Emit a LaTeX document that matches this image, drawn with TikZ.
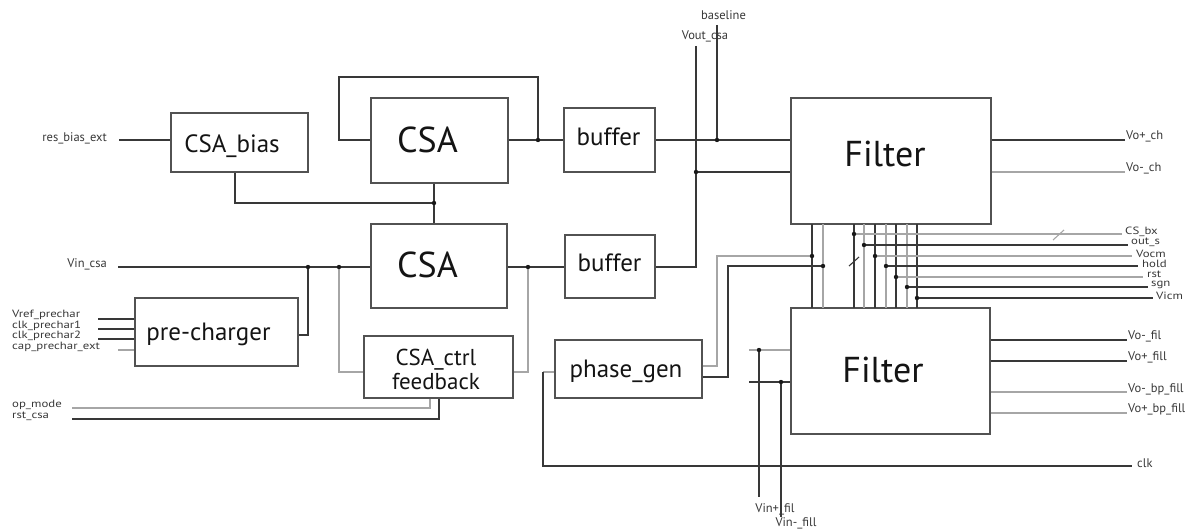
\documentclass[tikz,border=0pt]{standalone}
\usepackage{fontspec}
\setmainfont{PT Sans}
\setsansfont{PT Sans}
\begin{document}
\begin{tikzpicture}[x=1pt,y=-1pt,
  wire/.style={draw=black!78, line width=1.1pt},
  lwire/.style={draw=black!35, line width=1.1pt},
  blk/.style={draw=black!68, line width=1.2pt, inner sep=0pt},
  big/.style={font=\fontsize{36}{36}\selectfont, text=black!92, inner sep=0pt, anchor=base},
  mid/.style={font=\fontsize{25}{25}\selectfont, text=black!92, inner sep=0pt, anchor=base},
  sig/.style={font=\fontsize{12.5}{12.5}\selectfont, text=black!78, inner sep=0pt},
  stk/.style={font=\fontsize{10.5}{10.5}\selectfont\addfontfeature{FakeStretch=1.22},
              text=black!78, inner sep=0pt},
  jdot/.style={fill=black!90},
]
\useasboundingbox (0,0) rectangle (1190,532);

% ---------- blocks ----------
\node[blk, minimum width=137pt, minimum height=59pt] (csabias) at (239.5,142.5) {};
\node[mid] (csabias-t) at (232,152) {CSA\_bias};
\node[blk, minimum width=137pt, minimum height=85pt] (csa1) at (439.5,140.5) {};
\node[big] (csa1-t) at (427.5,152) {CSA};
\node[blk, minimum width=136pt, minimum height=84pt] (csa2) at (439,266) {};
\node[big] (csa2-t) at (427.5,277) {CSA};
\node[blk, minimum width=91pt, minimum height=64pt] (buf1) at (609.5,140) {};
\node[mid] (buf1-t) at (608.5,145) {buffer};
\node[blk, minimum width=90pt, minimum height=63pt] (buf2) at (610,266.5) {};
\node[mid] (buf2-t) at (609.5,271) {buffer};
\node[blk, minimum width=200pt, minimum height=126pt] (f1) at (891,161) {};
\node[big] (f1-t) at (885,166) {Filter};
\node[blk, minimum width=199pt, minimum height=126pt] (f2) at (890.5,371) {};
\node[big] (f2-t) at (883,382) {Filter};
\node[blk, minimum width=163pt, minimum height=68pt] (prech) at (216.5,332) {};
\node[mid] (prech-t) at (208.5,340) {pre-charger};
\node[blk, minimum width=149pt, minimum height=62pt] (ctrl) at (438.5,367) {};
\node[mid, font=\fontsize{23}{23}\selectfont] (ctrl-t1) at (436,365) {CSA\_ctrl};
\node[mid, font=\fontsize{23}{23}\selectfont] (ctrl-t2) at (436,389) {feedback};
\node[blk, minimum width=147pt, minimum height=58pt] (phg) at (628.5,369) {};
\node[mid] (phg-t) at (626,377) {phase\_gen};

% ---------- bias and first CSA ----------
\coordinate (rbe) at (119,140);
\node[sig, anchor=east] (l-rbe) at (107,138) {res\_bias\_ext};
\draw[wire] (rbe) -- (rbe -| csabias.west);

\coordinate (bb) at (235,203);
\coordinate (jb) at (434,203);
\draw[wire] (bb |- csabias.south) -- (bb) -- (jb);
\draw[wire] (jb |- csa1.south) -- (jb |- csa2.north);

\coordinate (fb1) at (339,140);
\coordinate (fbt) at (339,77);
\coordinate (j1) at (538,140);
\draw[wire] (fb1 -| csa1.west) -- (fb1) -- (fbt) -| (j1);
\draw[wire] (j1 -| csa1.east) -- (j1 -| buf1.west);

% ---------- buffer outputs, baseline, Vout_csa ----------
\coordinate (jbase) at (717,140);
\coordinate (basetop) at (717,25);
\draw[wire] (jbase -| buf1.east) -- (jbase -| f1.west);
\draw[wire] (basetop) -- (jbase);
\node[sig] (l-base) at (723.5,15) {baseline};

\coordinate (vtop) at (696,46);
\coordinate (jvout) at (696,172);
\coordinate (vbot) at (696,267);
\draw[wire] (vtop) -- (vbot) -- (vbot -| buf2.east);
\draw[wire] (jvout) -- (jvout -| f1.west);
\node[sig] (l-vout) at (705,36) {Vout\_csa};

% ---------- second CSA input side ----------
\coordinate (vin) at (118,267);
\coordinate (jp) at (308,267);
\coordinate (jc) at (339,267);
\node[sig, anchor=east] (l-vin) at (107,264) {Vin\_csa};
\draw[wire] (vin) -- (vin -| csa2.west);
\coordinate (po) at (308,335);
\draw[wire] (jp) -- (po) -- (po -| prech.east);
\coordinate (cl) at (339,372);
\draw[lwire] (jc) -- (cl) -- (cl -| ctrl.west);

\coordinate (j2) at (528,267);
\draw[wire] (j2 -| csa2.east) -- (j2 -| buf2.west);
\coordinate (cr) at (528,372);
\draw[lwire] (j2) -- (cr) -- (cr -| ctrl.east);

% ---------- pre-charger inputs ----------
\coordinate (pi1) at (98,319);
\coordinate (pi2) at (98,329);
\coordinate (pi3) at (98,339);
\coordinate (pi4) at (118,350);
\draw[wire] (pi1) -- (pi1 -| prech.west);
\draw[wire] (pi2) -- (pi2 -| prech.west);
\draw[wire] (pi3) -- (pi3 -| prech.west);
\draw[lwire] (pi4) -- (pi4 -| prech.west);
\node[stk, anchor=west] (l-pi1) at (12,315) {Vref\_prechar};
\node[stk, anchor=west] (l-pi2) at (12,325.5) {clk\_prechar1};
\node[stk, anchor=west] (l-pi3) at (12,336) {clk\_prechar2};
\node[stk, anchor=west] (l-pi4) at (12,346.5) {cap\_prechar\_ext};

% ---------- CSA_ctrl inputs ----------
\coordinate (opm) at (72,408);
\coordinate (opk) at (430,408);
\draw[lwire] (opm) -- (opk) -- (opk |- ctrl.south);
\coordinate (rsc) at (72,419);
\coordinate (rsk) at (439,419);
\draw[wire] (rsc) -- (rsk) -- (rsk |- ctrl.south);
\node[stk, anchor=west] (l-opm) at (12,405) {op\_mode};
\node[stk, anchor=west] (l-rsc) at (12,416) {rst\_csa};

% ---------- phase_gen ----------
\coordinate (pa) at (717,366);
\coordinate (pah) at (717,256);
\coordinate (ja) at (812,256);
\draw[lwire] (pa -| phg.east) -- (pa) -- (pah) -- (ja);
\coordinate (pb) at (728,377);
\coordinate (pbh) at (728,266);
\coordinate (jbb) at (823,266);
\draw[wire] (pb -| phg.east) -- (pb) -- (pbh) -- (jbb);

\coordinate (ck1) at (543,372);
\coordinate (ck2) at (543,466);
\coordinate (ck3) at (1132,466);
\draw[lwire] (ck1 -| phg.west) -- (ck1);
\draw[wire] (ck1) -- (ck2) -- (ck3);
\node[sig, anchor=west] (l-clk) at (1137,463) {clk};

% ---------- links between the two filters ----------
\foreach \x/\s in {812/wire, 823/lwire, 854/wire, 864/lwire, 875/wire,
                   886/lwire, 896/wire, 907/lwire, 917/wire}
  \draw[\s] (\x,224) -- (\x,308);

% control signals
\foreach \y/\xd/\xe/\s/\t/\xl in {
    234/854/1122/lwire/CS\_bx/1125,
    245/864/1128/wire/out\_s/1131,
    256/875/1132/lwire/Vocm/1136,
    266/886/1138/wire/hold/1142,
    277/896/1143/lwire/rst/1147,
    287/907/1148/wire/sgn/1151,
    298/917/1153/wire/Vicm/1156} {
  \draw[\s] (\xd,\y) -- (\xe,\y);
  \fill[jdot] (\xd,\y) circle (2.2pt);
  \node[stk, anchor=west] at (\xl,\y-2.5) {\t};
}
\draw[wire] (849,266) -- (859,257);
\draw[lwire] (1053,240) -- (1064,230);

% ---------- filter outputs ----------
\coordinate (o1) at (1125,140);
\coordinate (o2) at (1125,172);
\draw[wire] (o1 -| f1.east) -- (o1);
\draw[lwire] (o2 -| f1.east) -- (o2);
\node[sig, anchor=west] (l-o1) at (1126,136) {Vo+\_ch};
\node[sig, anchor=west] (l-o2) at (1126,168) {Vo-\_ch};

\coordinate (o3) at (1127,340);
\coordinate (o4) at (1127,361);
\coordinate (o5) at (1127,392);
\coordinate (o6) at (1127,413);
\draw[wire] (o3 -| f2.east) -- (o3);
\draw[wire] (o4 -| f2.east) -- (o4);
\draw[lwire] (o5 -| f2.east) -- (o5);
\draw[lwire] (o6 -| f2.east) -- (o6);
\node[sig, anchor=west] (l-o3) at (1128,336) {Vo-\_fil};
\node[sig, anchor=west] (l-o4) at (1128,357) {Vo+\_fill};
\node[sig, anchor=west] (l-o5) at (1128,389) {Vo-\_bp\_fill};
\node[sig, anchor=west] (l-o6) at (1128,409) {Vo+\_bp\_fill};

% ---------- second filter inputs ----------
\coordinate (fa) at (749,350);
\coordinate (ja2) at (759,350);
\coordinate (fae) at (759,497);
\draw[lwire] (fa) -- (fa -| f2.west);
\draw[wire] (ja2) -- (fae);
\coordinate (fbx) at (749,382);
\coordinate (jb2) at (781,382);
\coordinate (fbe) at (781,517);
\draw[wire] (fbx) -- (fbx -| f2.west);
\draw[wire] (jb2) -- (fbe);
\node[sig] (l-vinp) at (775,509) {Vin+\_fil};
\node[sig] (l-vinm) at (796,523) {Vin-\_fill};

% ---------- junction dots ----------
\foreach \p in {jb, j1, jbase, jvout, jp, jc, j2, ja, jbb, ja2, jb2}
  \fill[jdot] (\p) circle (2.2pt);
\end{tikzpicture}
\end{document}
